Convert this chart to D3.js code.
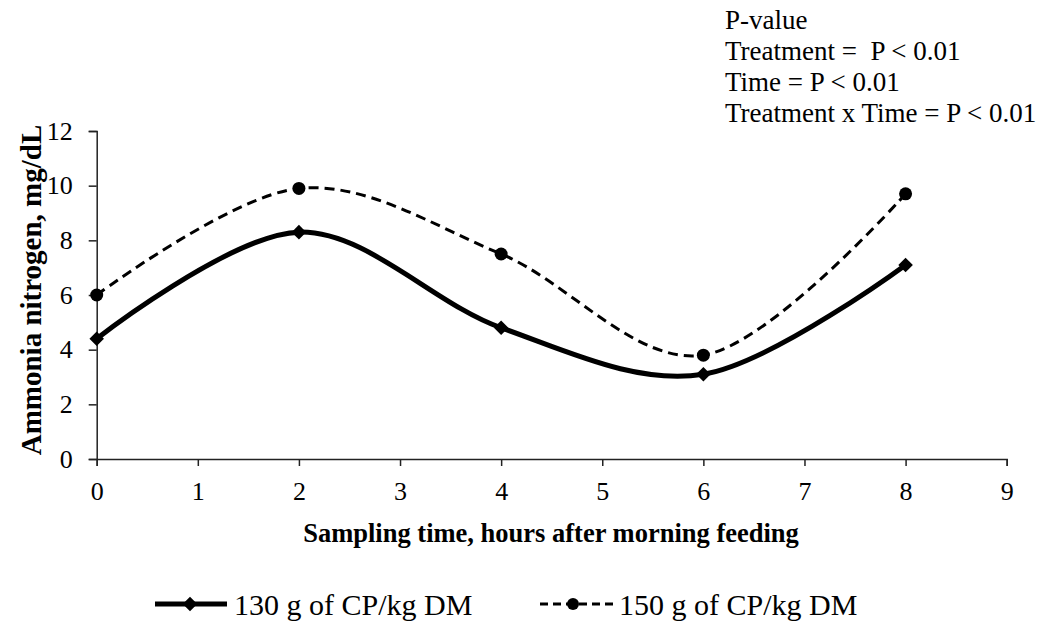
<!DOCTYPE html>
<html><head><meta charset="utf-8">
<script src="https://cdn.jsdelivr.net/npm/d3@7"></script>
<style>body{margin:0;background:#fff}svg{display:block}svg text{font-family:"Liberation Serif","Times New Roman",serif !important;fill:#000}</style>
</head><body>
<script>
const hours = [0, 2, 4, 6, 8];
const cp130 = [4.4, 8.3, 4.8, 3.1, 7.1];
const cp150 = [6.0, 9.9, 7.5, 3.8, 9.7];
const seriesNames = ["130 g of CP/kg DM", "150 g of CP/kg DM"];
const xTicks = [0,1,2,3,4,5,6,7,8,9];
const yTicks = [0,2,4,6,8,10,12];
const pLines = ["P-value","Treatment =  P < 0.01","Time = P < 0.01","Treatment x Time = P < 0.01"];

const W = 1040, H = 628;
const svg = d3.select("body").append("svg").attr("width", W).attr("height", H);
const x = d3.scaleLinear().domain([0, 9]).range([96.7, 1006.7]);
const y = d3.scaleLinear().domain([0, 12]).range([459, 131]);

const xa = svg.append("g").attr("transform", `translate(0,${y(0)})`)
  .call(d3.axisBottom(x).tickValues(xTicks).tickSize(7).tickPadding(16).tickFormat(d3.format("d")));
const ya = svg.append("g").attr("transform", `translate(${x(0)},0)`)
  .call(d3.axisLeft(y).tickValues(yTicks).tickSize(8).tickPadding(16).tickFormat(d3.format("d")));
[xa, ya].forEach(a => {
  a.attr("font-family", null).attr("font-size", null);
  a.select(".domain").attr("stroke", "#222").attr("stroke-width", 1.5);
  a.selectAll(".tick line").attr("stroke", "#222").attr("stroke-width", 1.5);
  a.selectAll(".tick text").style("font-size", "26px").attr("fill", "#000");
});

const curve = d3.curveCatmullRom.alpha(0);
const line = d3.line().x(d => x(d[0])).y(d => y(d[1])).curve(curve);
const d130 = hours.map((h, i) => [h, cp130[i]]);
const d150 = hours.map((h, i) => [h, cp150[i]]);

svg.append("path").attr("d", line(d150)).attr("fill", "none").attr("stroke", "#000")
  .attr("stroke-width", 3).attr("stroke-dasharray", "10,6");
svg.append("path").attr("d", line(d130)).attr("fill", "none").attr("stroke", "#000")
  .attr("stroke-width", 5);

const diamond = d3.symbol().type(d3.symbolDiamond2).size(135);
svg.selectAll(".m130").data(d130).join("path").attr("class", "m130")
  .attr("transform", d => `translate(${x(d[0])},${y(d[1])})`)
  .attr("d", diamond).attr("fill", "#000");
svg.selectAll(".m150").data(d150).join("circle").attr("class", "m150")
  .attr("cx", d => x(d[0])).attr("cy", d => y(d[1])).attr("r", 6.5).attr("fill", "#000");

// axis titles
svg.append("text").attr("x", 551).attr("y", 542).attr("text-anchor", "middle")
  .style("font-size", "26.5px").style("font-weight", "bold").text("Sampling time, hours after morning feeding");
svg.append("text").attr("transform", `translate(41,290) rotate(-90)`).attr("text-anchor", "middle")
  .style("font-size", "29px").style("font-weight", "bold").text("Ammonia nitrogen, mg/dL");

// p-value annotation
svg.append("g").selectAll("text").data(pLines).join("text")
  .attr("x", 725).attr("y", (d, i) => 29 + i * 31)
  .style("font-size", "27px").style("white-space", "pre").attr("xml:space", "preserve").text(d => d);

// legend
const lg = svg.append("g");
lg.append("line").attr("x1", 155).attr("x2", 227).attr("y1", 604).attr("y2", 604)
  .attr("stroke", "#000").attr("stroke-width", 5);
lg.append("path").attr("transform", "translate(190,604)").attr("d", diamond).attr("fill", "#000");
lg.append("text").attr("x", 234).attr("y", 615).style("font-size", "30px").text(seriesNames[0]);
lg.append("line").attr("x1", 540).attr("x2", 616).attr("y1", 604).attr("y2", 604)
  .attr("stroke", "#000").attr("stroke-width", 3).attr("stroke-dasharray", "8,5");
lg.append("circle").attr("cx", 573).attr("cy", 604).attr("r", 6).attr("fill", "#000");
lg.append("text").attr("x", 619).attr("y", 615).style("font-size", "30px").text(seriesNames[1]);
</script>
</body></html>
